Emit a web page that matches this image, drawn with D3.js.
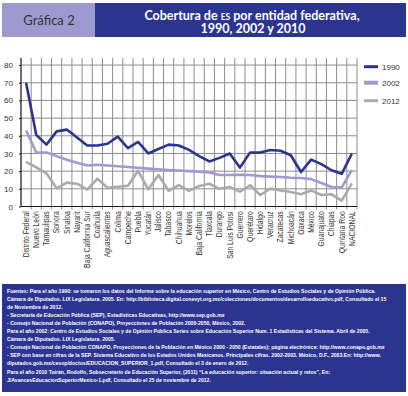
<!DOCTYPE html>
<html><head><meta charset="utf-8">
<script src="https://cdn.jsdelivr.net/npm/d3@7"></script>
<style>
html,body{margin:0;padding:0;background:#fff;}
svg{display:block;}
</style></head>
<body>
<svg id="c" width="408" height="396"></svg>
<script>
const categories = ["Distrito Federal","Nuevo León","Tamaulipas","Sonora","Sinaloa","Nayarit","Baja California Sur","Coahuila","Aguascalientes","Colima","Campeche","Puebla","Yucatán","Jalisco","Tabasco","Chihuahua","Morelos","Baja California","Tlaxcala","Durango","San Luis Potosí","Guerrero","Querétaro","Hidalgo","Veracruz","Zacatecas","Michoacán","Oaxaca","México","Guanajuato","Chiapas","Quintana Roo","NACIONAL"];
const v1990 = [70,40.5,35,42.5,43.5,39,34.5,34.5,35.5,39.5,33,36.5,30,32.5,35,34.5,32,28.5,25.5,27.5,30,22,30.5,30.5,32,31.5,29,19.5,26.5,24,20.5,18.5,30];
const v2002 = [43,30.5,30.5,28.5,26.5,24.8,23.2,23.6,23.2,22.8,22.3,21.9,21.4,21,20.6,20.4,20,19.7,19.3,17.8,17.8,17.9,17.8,17.2,16.9,16.7,16.3,16.1,15.5,13.3,11,10.8,20.7];
const v2012 = [25.3,22.1,18.8,10.3,13.5,12.9,9.5,15.7,10.6,11.2,11.7,20.2,9.7,17.8,8.9,12.1,8.8,11.6,12.9,10,11,8.4,12,6.5,10.1,9.1,8.2,6.9,9.1,6.5,6.9,3.3,13.1];
const seriesNames = ["1990","2002","2012"];
const yTicks = [0,10,20,30,40,50,60,70,80];
const titleLine1 = ["Cobertura de ", "ES", " por entidad federativa,"];
const titleLine2 = "1990, 2002 y 2010";
const badge = "Gráfica 2";
const footLines = [
 "Fuentes: Para el año 1990: se tomaron los datos del Informe sobre la educación superior en México, Centro de Estudios Sociales y de Opinión Pública.",
 "Cámara de Diputados. LIX Legislatura. 2005. En: http://biblioteca.digital.conevyt.org.mx/colecciones/documentos/desarrolloeducativo.pdf, Consultado el 15",
 "de Noviembre de 2012.",
 "- Secretaría de Educación Pública (SEP), Estadísticas Educativas, http://www.sep.gob.mx",
 "- Consejo Nacional de Población (CONAPO), Proyecciones de Población 2000-2050, México, 2002.",
 "Para el año 2002: Centro de Estudios Sociales y de Opinión Pública Series sobre Educación Superior  Num. 1 Estadísticas del Sistema. Abril de 2005.",
 "Cámara de Diputados. LIX Legislatura. 2005.",
 "- Consejo Nacional de Población CONAPO, Proyecciones de la Población en México 2000 - 2050 (Estatales); página electrónica: http://www.conapo.gob.mx",
 "- SEP con base en cifras de la SEP. Sistema Educativo de los Estados Unidos Mexicanos. Principales cifras. 2002-2003. México, D.F., 2003.En: http://www.",
 "diputados.gob.mx/cesop/doctos/EDUCACION_SUPERIOR_1.pdf, Consultado el 3 de enero de 2012.",
 "Para el año 2010 Tuirán, Rodolfo, Subsecretario de Educación Superior, (2011) “La educación superior: situación actual y retos”, En:",
 "J/AvancesEducacionSuperiorMexico-1.pdf, Consultado el 25 de noviembre de 2012."
];

const navy = "#2b3590", lilac = "#9e9ad0", grey = "#aaaaaa";
const colors = [navy, lilac, grey];
const svg = d3.select("#c");

// header
svg.append("rect").attr("x",2).attr("y",3).attr("width",93).attr("height",34).attr("fill",lilac);
svg.append("rect").attr("x",95).attr("y",3).attr("width",311).attr("height",34).attr("fill",navy);
svg.append("text").attr("x",49).attr("y",24.5).attr("text-anchor","middle")
  .attr("font-family","Lato, 'Open Sans', sans-serif").attr("font-size",13).attr("fill","#333").text(badge);
const t1 = svg.append("text").attr("x",252).attr("y",20).attr("text-anchor","middle").attr("fill","#fff")
  .attr("font-family","Lato, 'Open Sans', sans-serif").attr("font-weight","bold").attr("font-size",12.5);
titleLine1.forEach((s,i)=>{
  t1.append("tspan").attr("font-size", i===1 ? 8.5 : null).text(s);
});
svg.append("text").attr("x",253).attr("y",32.5).attr("text-anchor","middle").attr("fill","#fff")
  .attr("font-family","Lato, 'Open Sans', sans-serif").attr("font-weight","bold").attr("font-size",12.5)
  .text(titleLine2);

// chart
const x = d3.scaleBand().domain(categories).range([21,357]);
const y = d3.scaleLinear().domain([0,84]).range([206.5,58]);

const g = svg.append("g");
g.selectAll(".hg").data(yTicks.filter(d=>d>0)).enter().append("line")
  .attr("x1",x.range()[0]).attr("x2",x.range()[1]).attr("y1",d=>y(d)).attr("y2",d=>y(d))
  .attr("stroke","#8c8c8c").attr("stroke-width",1);
const bounds = categories.map(c=>x(c)+x.bandwidth());
g.selectAll(".vg").data(bounds).enter().append("line")
  .attr("x1",d=>d).attr("x2",d=>d).attr("y1",y(84)).attr("y2",y(0)+3)
  .attr("stroke","#8c8c8c").attr("stroke-width",1);
// y axis
const ya = svg.append("g").attr("transform",`translate(${x.range()[0]},0)`)
  .call(d3.axisLeft(y).tickValues(yTicks).tickSize(2).tickPadding(6));
ya.select(".domain").attr("d",`M0,${y(84)}V${y(0)}`).attr("stroke","#111").attr("stroke-width",1.2);
ya.selectAll("text").attr("font-family","'Liberation Sans', Arial, sans-serif").attr("font-size",8).attr("fill","#333");
ya.selectAll(".tick line").attr("stroke","#111");
// x axis
const xa = svg.append("g").attr("transform",`translate(0,${y(0)})`)
  .call(d3.axisBottom(x).tickSize(0).tickPadding(0));
xa.select(".domain").attr("d",`M${x.range()[0]},0H${x.range()[1]}`).attr("stroke","#111").attr("stroke-width",1.2);
xa.selectAll(".tick text")
  .attr("transform","rotate(-90) scale(0.8,1)")
  .attr("text-anchor","end").attr("x",-6).attr("y",0).attr("dy","0.33em")
  .attr("font-family","'Liberation Sans', Arial, sans-serif").attr("font-size",8.5).attr("fill","#333");

// lines
const seriesData = [v1990, v2002, v2012];
const line = d3.line().x((d,i)=>x(categories[i])+x.bandwidth()/2).y(d=>y(d));
[2,1,0].forEach(k=>{
  svg.append("path").datum(seriesData[k]).attr("d",line).attr("fill","none")
    .attr("stroke",colors[k]).attr("stroke-width",2.6).attr("stroke-linejoin","round");
});

// legend
const lg = svg.append("g");
const legY = [66.7, 82.7, 100.7];
seriesNames.forEach((s,i)=>{
  lg.append("line").attr("x1",364).attr("x2",378).attr("y1",legY[i]).attr("y2",legY[i])
    .attr("stroke",colors[i]).attr("stroke-width",i===1?4:3);
  lg.append("text").attr("x",382).attr("y",legY[i]).attr("dy","0.35em")
    .attr("font-family","'Liberation Sans', Arial, sans-serif").attr("font-size",8).attr("fill","#333").text(s);
});

// footer
svg.append("rect").attr("x",2).attr("y",284).attr("width",404).attr("height",108).attr("fill",navy);
const ft = svg.append("g").attr("font-family","'Liberation Sans', Arial, sans-serif")
  .attr("font-size",6.2).attr("font-weight","bold").attr("fill","#fff");
const texts = footLines.map((t,i)=>ft.append("text").attr("x",0).attr("y",0).text(t));
// uniform horizontal compression so the first line ends where the reference's does
const w0 = texts[0].node().getComputedTextLength();
const sx = 368 / w0;
texts.forEach((tx,i)=>{
  tx.attr("transform",`translate(7,${292.5+i*8.1}) scale(${sx},1)`);
});
</script>
</body></html>
